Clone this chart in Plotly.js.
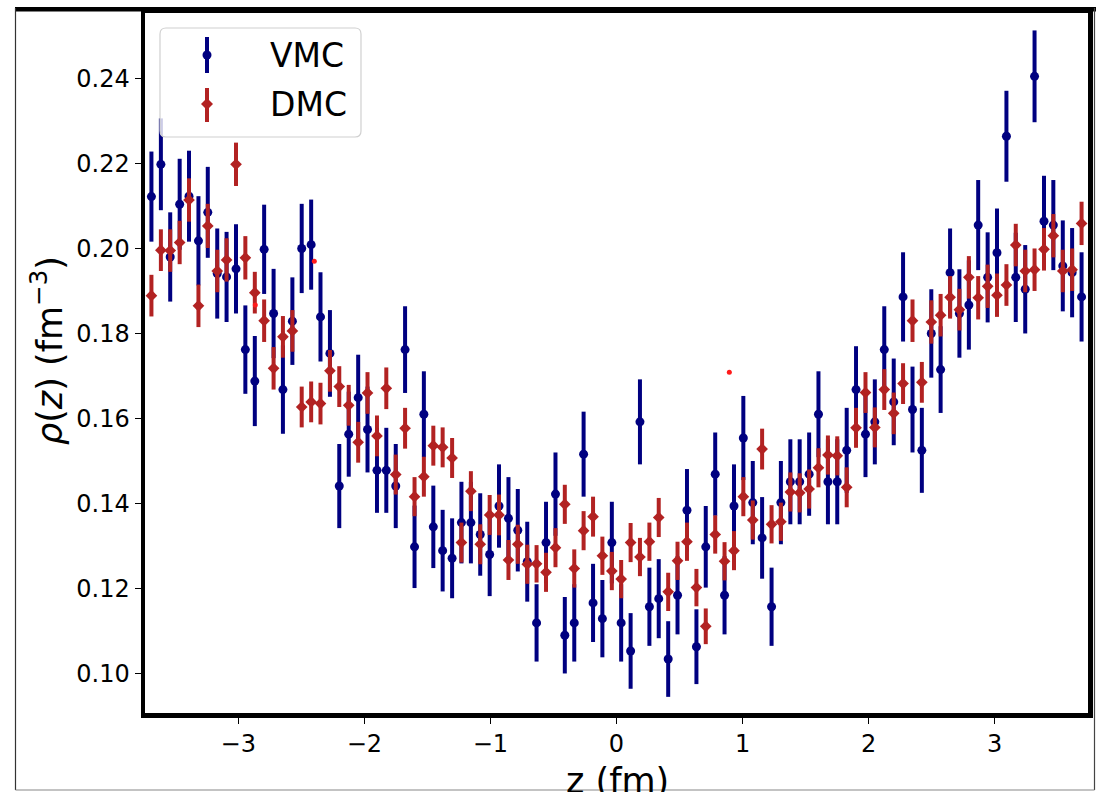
<!DOCTYPE html>
<html>
<head>
<meta charset="utf-8">
<script src="https://cdn.plot.ly/plotly-3.0.1.min.js"></script>
<style>
  html, body { margin: 0; padding: 0; background: #ffffff; }
  #chart { width: 1101px; height: 792px; }
</style>
</head>
<body>
<div id="chart"></div>
<script>
// bin centres z (fm)
const zBins = [
  -3.689, -3.614, -3.540, -3.465, -3.391, -3.316, -3.242, -3.167, -3.093, -3.018,
  -2.944, -2.869, -2.795, -2.720, -2.646, -2.571, -2.497, -2.422, -2.348, -2.273,
  -2.199, -2.124, -2.049, -1.975, -1.900, -1.826, -1.751, -1.677, -1.602, -1.528,
  -1.453, -1.379, -1.304, -1.230, -1.155, -1.081, -1.006, -0.932, -0.857, -0.783,
  -0.708, -0.634, -0.559, -0.484, -0.410, -0.335, -0.261, -0.186, -0.112, -0.037,
   0.037,  0.112,  0.186,  0.261,  0.335,  0.410,  0.484,  0.559,  0.634,  0.708,
   0.783,  0.857,  0.932,  1.006,  1.081,  1.155,  1.230,  1.304,  1.379,  1.453,
   1.528,  1.602,  1.677,  1.751,  1.826,  1.900,  1.975,  2.049,  2.124,  2.199,
   2.273,  2.348,  2.422,  2.497,  2.571,  2.646,  2.720,  2.795,  2.869,  2.944,
   3.018,  3.093,  3.167,  3.242,  3.316,  3.391,  3.465,  3.540,  3.614,  3.689
];

// VMC density and errors
const vmcRho = [
  0.2122, 0.2198, 0.1980, 0.2104, 0.2123, 0.2018, 0.2085, 0.1941, 0.1933, 0.1952,
  0.1762, 0.1688, 0.1998, 0.1847, 0.1668, 0.1829, 0.2000, 0.2009, 0.1839, 0.1753,
  0.1441, 0.1563, 0.1649, 0.1574, 0.1478, 0.1478, 0.1441, 0.1762, 0.1298, 0.1610,
  0.1345, 0.1289, 0.1271, 0.1355, 0.1355, 0.1327, 0.1280, 0.1394, 0.1365, 0.1337,
  0.1263, 0.1119, 0.1308, 0.1422, 0.1090, 0.1119, 0.1516, 0.1166, 0.1129, 0.1308,
  0.1119, 0.1053, 0.1592, 0.1157, 0.1176, 0.1034, 0.1184, 0.1384, 0.1063, 0.1298,
  0.1469, 0.1184, 0.1394, 0.1554, 0.1402, 0.1319, 0.1157, 0.1402, 0.1451, 0.1451,
  0.1469, 0.1610, 0.1451, 0.1451, 0.1525, 0.1668, 0.1563, 0.1592, 0.1762, 0.1639,
  0.1886, 0.1621, 0.1525, 0.1800, 0.1715, 0.1943, 0.1847, 0.1867, 0.2055, 0.1932,
  0.1990, 0.2264, 0.1932, 0.1904, 0.2405, 0.2064, 0.2055, 0.1959, 0.1943, 0.1886
];
const vmcErr = [
  0.0106, 0.0108, 0.0105, 0.0107, 0.0107, 0.0105, 0.0107, 0.0106, 0.0106, 0.0105,
  0.0104, 0.0106, 0.0105, 0.0105, 0.0104, 0.0103, 0.0105, 0.0106, 0.0105, 0.0102,
  0.0099, 0.0100, 0.0101, 0.0101, 0.0100, 0.0100, 0.0099, 0.0102, 0.0097, 0.0101,
  0.0097, 0.0096, 0.0094, 0.0096, 0.0096, 0.0097, 0.0098, 0.0098, 0.0097, 0.0097,
  0.0094, 0.0091, 0.0096, 0.0098, 0.0090, 0.0091, 0.0100, 0.0092, 0.0091, 0.0096,
  0.0091, 0.0089, 0.0100, 0.0092, 0.0093, 0.0089, 0.0092, 0.0097, 0.0088, 0.0096,
  0.0098, 0.0092, 0.0098, 0.0099, 0.0098, 0.0096, 0.0092, 0.0098, 0.0100, 0.0100,
  0.0098, 0.0101, 0.0100, 0.0100, 0.0100, 0.0102, 0.0101, 0.0100, 0.0102, 0.0102,
  0.0105, 0.0101, 0.0100, 0.0104, 0.0102, 0.0104, 0.0104, 0.0105, 0.0106, 0.0106,
  0.0104, 0.0107, 0.0105, 0.0104, 0.0108, 0.0107, 0.0106, 0.0107, 0.0105, 0.0105
];

// DMC density and errors
const dmcRho = [
  0.1889, 0.1996, 0.1995, 0.2014, 0.2114, 0.1865, 0.2053, 0.1947, 0.1973, 0.2198,
  0.1978, 0.1896, 0.1830, 0.1718, 0.1792, 0.1806, 0.1627, 0.1639, 0.1635, 0.1712,
  0.1675, 0.1631, 0.1544, 0.1660, 0.1559, 0.1671, 0.1468, 0.1577, 0.1416, 0.1463,
  0.1536, 0.1532, 0.1507, 0.1308, 0.1429, 0.1304, 0.1373, 0.1373, 0.1267, 0.1304,
  0.1257, 0.1258, 0.1238, 0.1296, 0.1398, 0.1247, 0.1336, 0.1369, 0.1277, 0.1241,
  0.1222, 0.1308, 0.1274, 0.1310, 0.1367, 0.1192, 0.1265, 0.1310, 0.1202, 0.1111,
  0.1327, 0.1264, 0.1289, 0.1416, 0.1361, 0.1528, 0.1351, 0.1357, 0.1427, 0.1425,
  0.1434, 0.1484, 0.1514, 0.1512, 0.1438, 0.1578, 0.1661, 0.1579, 0.1668, 0.1612,
  0.1682, 0.1830, 0.1685, 0.1827, 0.1843, 0.1885, 0.1856, 0.1932, 0.1884, 0.1911,
  0.1890, 0.1914, 0.2008, 0.1947, 0.1950, 0.1998, 0.2030, 0.1947, 0.1950, 0.2059
];
const dmcErr = [
  0.0049, 0.0049, 0.0050, 0.0051, 0.0051, 0.0050, 0.0052, 0.0050, 0.0051, 0.0051,
  0.0051, 0.0049, 0.0050, 0.0050, 0.0049, 0.0049, 0.0048, 0.0048, 0.0049, 0.0049,
  0.0048, 0.0048, 0.0048, 0.0049, 0.0048, 0.0049, 0.0047, 0.0048, 0.0046, 0.0047,
  0.0047, 0.0047, 0.0047, 0.0047, 0.0047, 0.0047, 0.0047, 0.0048, 0.0047, 0.0046,
  0.0046, 0.0044, 0.0046, 0.0046, 0.0046, 0.0045, 0.0046, 0.0047, 0.0045, 0.0045,
  0.0045, 0.0046, 0.0045, 0.0045, 0.0046, 0.0045, 0.0045, 0.0045, 0.0044, 0.0042,
  0.0045, 0.0045, 0.0046, 0.0046, 0.0046, 0.0048, 0.0045, 0.0045, 0.0046, 0.0046,
  0.0046, 0.0046, 0.0046, 0.0046, 0.0047, 0.0047, 0.0048, 0.0047, 0.0048, 0.0049,
  0.0048, 0.0050, 0.0048, 0.0051, 0.0050, 0.0050, 0.0049, 0.0050, 0.0051, 0.0051,
  0.0051, 0.0049, 0.0050, 0.0050, 0.0050, 0.0050, 0.0051, 0.0050, 0.0050, 0.0051
];

// stray small red points
const dotZ = [-2.865, -2.397, 0.895];
const dotRho = [0.1867, 0.1970, 0.1709];

const xTicks = [-3, -2, -1, 0, 1, 2, 3];
const xTickText = ['\u22123', '\u22122', '\u22121', '0', '1', '2', '3'];
const yTicks = [0.10, 0.12, 0.14, 0.16, 0.18, 0.20, 0.22, 0.24];
const yTickText = ['0.10', '0.12', '0.14', '0.16', '0.18', '0.20', '0.22', '0.24'];

const NAVY = '#000080';
const FIRE = '#b22222';
const FONT = 'DejaVu Sans, Verdana, sans-serif';

const traces = [
  {
    type: 'scatter', mode: 'markers', name: 'VMC', showlegend: false,
    x: zBins, y: vmcRho,
    error_y: { type: 'data', array: vmcErr, visible: true, color: NAVY, thickness: 4, width: 0 },
    marker: { color: NAVY, size: 9, symbol: 'circle' }
  },
  {
    type: 'scatter', mode: 'markers', name: 'DMC', showlegend: false,
    x: zBins, y: dmcRho,
    error_y: { type: 'data', array: dmcErr, visible: true, color: FIRE, thickness: 4, width: 0 },
    marker: { color: FIRE, size: 9, symbol: 'diamond' }
  },
  {
    type: 'scatter', mode: 'markers', showlegend: false,
    x: dotZ, y: dotRho,
    marker: { color: '#ff1a1a', size: 5, symbol: 'circle' }
  }
];

// plot area in px: x 145..1088, y 13..713
const L = 145, W = 943, T = 13, H = 700;
const px = v => (v - L) / W;
const py = v => (T + H - v) / H;

function roundRect(x0, y0, x1, y1, r) {
  const rx = r / W, ry = r / H;
  const a = px(x0), b = px(x1), top = py(y0), bot = py(y1);
  return `M ${a + rx} ${top} L ${b - rx} ${top} Q ${b} ${top} ${b} ${top - ry} ` +
         `L ${b} ${bot + ry} Q ${b} ${bot} ${b - rx} ${bot} L ${a + rx} ${bot} ` +
         `Q ${a} ${bot} ${a} ${bot + ry} L ${a} ${top - ry} Q ${a} ${top} ${a + rx} ${top} Z`;
}
function diamondPath(cx, cy, r) {
  return `M ${px(cx)} ${py(cy - r)} L ${px(cx + r)} ${py(cy)} L ${px(cx)} ${py(cy + r)} L ${px(cx - r)} ${py(cy)} Z`;
}

const shapes = [
  // legend box
  { type: 'path', xref: 'paper', yref: 'paper', path: roundRect(160, 28, 361, 137, 6),
    fillcolor: 'rgba(255,255,255,0.8)', line: { color: '#d0d0d0', width: 1.2 }, layer: 'above' },
  // VMC legend symbol
  { type: 'line', xref: 'paper', yref: 'paper', x0: px(207), x1: px(207), y0: py(37), y1: py(73),
    line: { color: NAVY, width: 4 }, layer: 'above' },
  { type: 'circle', xref: 'paper', yref: 'paper', x0: px(202.5), x1: px(211.5), y0: py(50.5), y1: py(59.5),
    fillcolor: NAVY, line: { color: NAVY, width: 0 }, layer: 'above' },
  // DMC legend symbol
  { type: 'line', xref: 'paper', yref: 'paper', x0: px(207), x1: px(207), y0: py(88), y1: py(122),
    line: { color: FIRE, width: 4 }, layer: 'above' },
  { type: 'path', xref: 'paper', yref: 'paper', path: diamondPath(207, 104, 6),
    fillcolor: FIRE, line: { color: FIRE, width: 0 }, layer: 'above' },
  // outer frame of the picture
  { type: 'rect', xref: 'paper', yref: 'paper', x0: px(15), x1: px(1096), y0: py(7), y1: py(11.5),
    fillcolor: '#000000', line: { width: 0 }, layer: 'above' },
  { type: 'line', xref: 'paper', yref: 'paper', x0: px(15.5), x1: px(15.5), y0: py(8), y1: py(790),
    line: { color: '#333333', width: 1.2 }, layer: 'above' },
  { type: 'line', xref: 'paper', yref: 'paper', x0: px(1094.5), x1: px(1094.5), y0: py(8), y1: py(790),
    line: { color: '#444444', width: 1.2 }, layer: 'above' },
  { type: 'line', xref: 'paper', yref: 'paper', x0: px(15.5), x1: px(1094.5), y0: py(790), y1: py(790),
    line: { color: '#888888', width: 1.2 }, layer: 'above' }
];

const annotations = [
  { xref: 'paper', yref: 'paper', x: px(268), y: py(55), xanchor: 'left', yanchor: 'middle',
    text: 'VMC', showarrow: false, font: { family: FONT, size: 33, color: '#000000' } },
  { xref: 'paper', yref: 'paper', x: px(268), y: py(104), xanchor: 'left', yanchor: 'middle',
    text: 'DMC', showarrow: false, font: { family: FONT, size: 33, color: '#000000' } },
  { xref: 'paper', yref: 'paper', x: px(617), y: py(781), xanchor: 'center', yanchor: 'middle',
    text: 'z (fm)', showarrow: false, font: { family: FONT, size: 35, color: '#000000' } },
  { xref: 'paper', yref: 'paper', x: px(47), y: py(351), xanchor: 'center', yanchor: 'middle',
    textangle: -90, text: '<i>ρ</i>(<i>z</i>) (fm<sup>\u22123</sup>)', showarrow: false,
    font: { family: FONT, size: 35, color: '#000000' } }
];

const layout = {
  width: 1101, height: 792,
  margin: { l: L, r: 1101 - L - W, t: T, b: 792 - T - H, pad: 0 },
  paper_bgcolor: '#ffffff', plot_bgcolor: '#ffffff',
  showlegend: false,
  font: { family: FONT, color: '#000000' },
  xaxis: {
    range: [-3.74, 3.74], tickmode: 'array', tickvals: xTicks, ticktext: xTickText,
    showline: true, linewidth: 4.5, linecolor: '#000000', mirror: true,
    ticks: 'outside', ticklen: 6, tickwidth: 1.5, tickcolor: '#000000',
    showgrid: false, zeroline: false,
    tickfont: { family: FONT, size: 24, color: '#000000' }
  },
  yaxis: {
    range: [0.0907, 0.2554], tickmode: 'array', tickvals: yTicks, ticktext: yTickText,
    showline: true, linewidth: 4.5, linecolor: '#000000', mirror: true,
    ticks: 'outside', ticklen: 6, tickwidth: 1.5, tickcolor: '#000000',
    showgrid: false, zeroline: false,
    tickfont: { family: FONT, size: 24, color: '#000000' }
  },
  shapes: shapes,
  annotations: annotations
};

Plotly.newPlot('chart', traces, layout, { displayModeBar: false, staticPlot: true });
</script>
</body>
</html>
